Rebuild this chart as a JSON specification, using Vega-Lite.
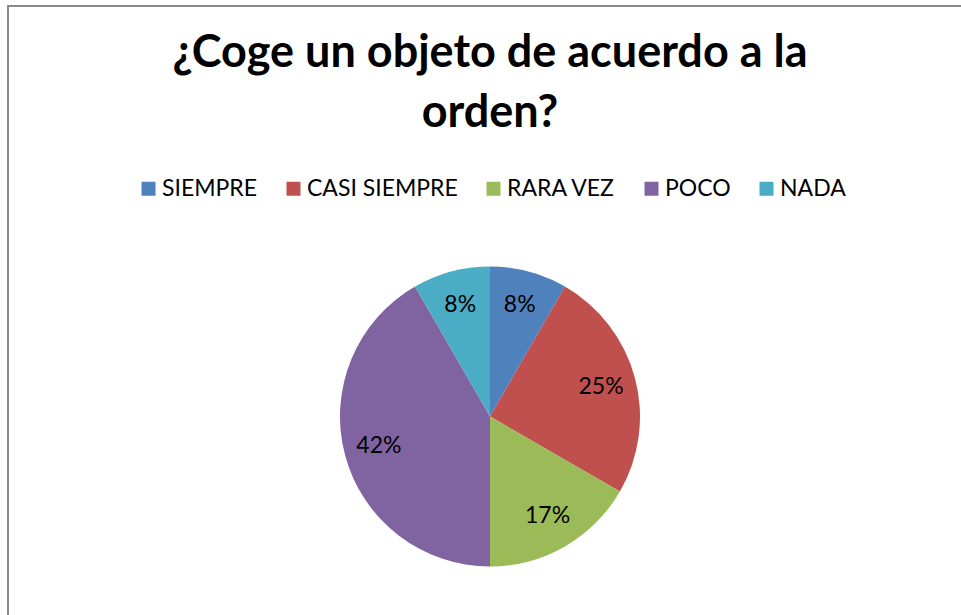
{
  "$schema": "https://vega.github.io/schema/vega-lite/v6.json",
  "width": 964,
  "height": 821,
  "autosize": {"type": "none"},
  "padding": {"left": 8, "top": 6, "right": -11, "bottom": -212},
  "background": "white",
  "view": {"stroke": "#898989", "strokeWidth": 2},
  "config": {"font": "Lato"},
  "title": {
    "text": ["¿Coge un objeto de acuerdo a la", "orden?"],
    "font": "Lato",
    "fontSize": 45,
    "fontWeight": "bold",
    "color": "black",
    "anchor": "middle",
    "frame": "group",
    "orient": "top",
    "offset": 0,
    "dy": 130,
    "lineHeight": 60
  },
  "data": {
    "values": [
      {"category": "SIEMPRE", "share": 0.0833, "idx": 1},
      {"category": "CASI SIEMPRE", "share": 0.25, "idx": 2},
      {"category": "RARA VEZ", "share": 0.1667, "idx": 3},
      {"category": "POCO", "share": 0.4167, "idx": 4},
      {"category": "NADA", "share": 0.0833, "idx": 5}
    ]
  },
  "encoding": {
    "theta": {"field": "share", "type": "quantitative", "stack": true},
    "order": {"field": "idx", "type": "quantitative"}
  },
  "layer": [
    {
      "mark": {"type": "arc", "radius": 150},
      "encoding": {
        "color": {
          "field": "category",
          "type": "nominal",
          "sort": null,
          "scale": {
            "domain": ["SIEMPRE", "CASI SIEMPRE", "RARA VEZ", "POCO", "NADA"],
            "range": ["#4F81BD", "#C0504D", "#9BBB59", "#8064A2", "#4BACC6"]
          },
          "legend": {
            "orient": "none",
            "legendX": 129,
            "legendY": 171,
            "direction": "horizontal",
            "columns": 5,
            "title": null,
            "symbolType": "square",
            "symbolSize": 196,
            "symbolStrokeWidth": 0,
            "labelFont": "Lato",
            "labelFontSize": 23,
            "labelColor": "black",
            "labelOffset": 2,
            "columnPadding": 24,
            "padding": 0
          }
        }
      }
    },
    {
      "mark": {"type": "text", "radius": 115, "font": "Lato", "fontSize": 23, "color": "black"},
      "encoding": {
        "text": {"field": "share", "type": "quantitative", "format": ".0%"}
      }
    }
  ]
}
